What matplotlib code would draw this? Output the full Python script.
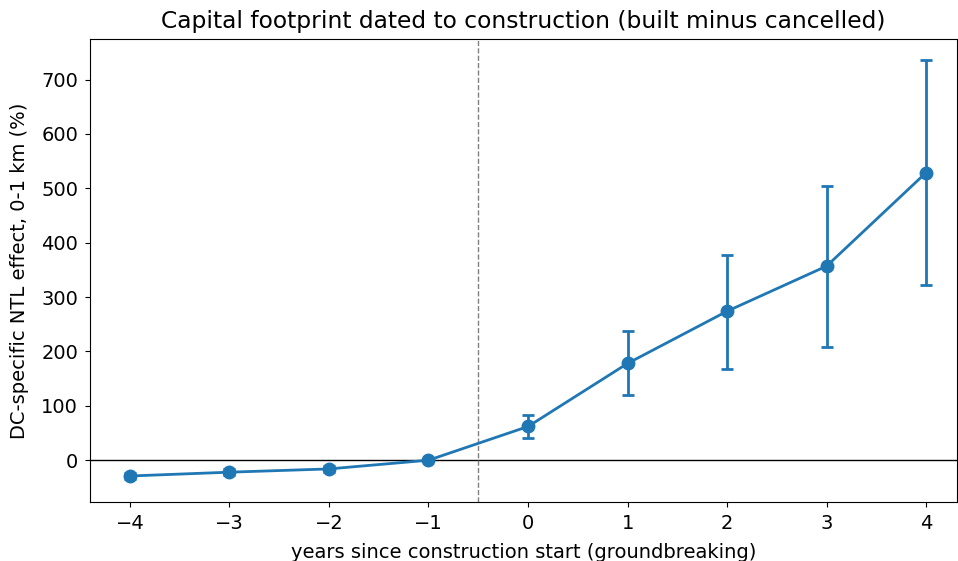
import matplotlib
matplotlib.use("Agg")
import matplotlib.pyplot as plt
import numpy as np

years = [-4, -3, -2, -1, 0, 1, 2, 3, 4]
effect = [-29, -22, -16, 0, 62, 178, 274, 357, 529]
lower = [-35, -28, -21, 0, 40, 120, 168, 208, 322]
upper = [-23, -16, -11, 0, 84, 237, 378, 504, 735]

eff = np.array(effect)
yerr = np.vstack([eff - np.array(lower), np.array(upper) - eff])

fig = plt.figure(figsize=(9.58, 5.61), dpi=100)
ax = fig.add_axes([0.094, 0.105, 0.905, 0.825])
ax.errorbar(years, effect, yerr=yerr, fmt='-o', color='#1f77b4', lw=2,
            ms=9, capsize=4, elinewidth=2, capthick=2)
ax.axhline(0, color='black', lw=1)
ax.axvline(-0.5, color='gray', ls='--', lw=1)
ax.set_title("Capital footprint dated to construction (built minus cancelled)", fontsize=16.8, pad=8)
ax.set_xlabel("years since construction start (groundbreaking)", fontsize=14, labelpad=7)
ax.set_ylabel("DC-specific NTL effect, 0-1 km (%)", fontsize=14, labelpad=9)
ax.tick_params(labelsize=14, pad=5)
ax.set_ylim(-77, 774)
ax.set_xlim(-4.4, 4.31)
ax.set_xticks(years)
ax.set_yticks([0, 100, 200, 300, 400, 500, 600, 700])
fig.savefig("out.png", dpi=100)
